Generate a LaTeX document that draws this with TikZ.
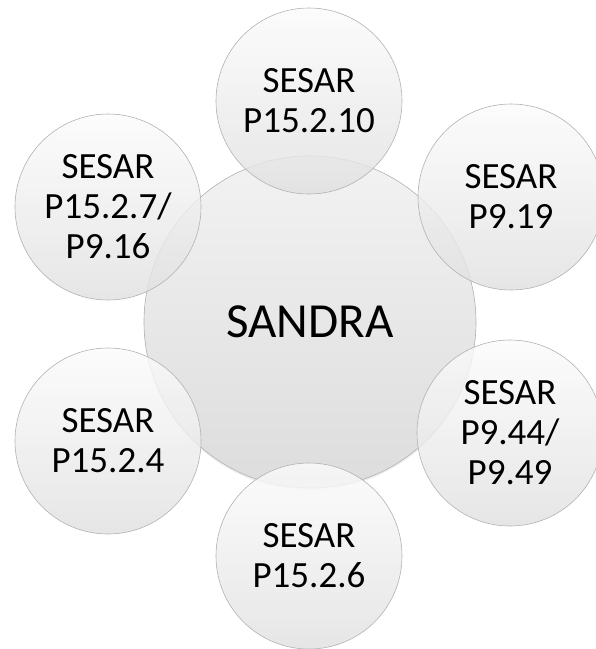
\documentclass[tikz,border=0pt]{standalone}
\usepackage{fontspec}
\setmainfont{Carlito}
\usetikzlibrary{shadows}
\begin{document}
\begin{tikzpicture}[x=1pt,y=-1pt,
  hub/.style={circle, minimum size=332pt, inner sep=0pt, draw=gray!60, line width=0.6pt,
    top color=gray!10, bottom color=gray!27,
    drop shadow={opacity=0.15, shadow xshift=0pt, shadow yshift=-2pt},
    font=\fontsize{49}{52}\selectfont},
  sat/.style={circle, minimum size=186pt, inner sep=0pt, draw=gray!60, line width=0.6pt,
    top color=gray!3, bottom color=gray!24, fill opacity=0.82, draw opacity=1, text opacity=1,
    align=center, font=\fontsize{37}{40}\selectfont}]
\useasboundingbox (0,0) rectangle (596,649);
\node[hub] (hub) at (310,322) {SANDRA};
\node[sat] (s1) at (309,101) {SESAR\\P15.2.10};
\node[sat] (s2) at (511,197) {SESAR\\P9.19};
\node[sat] (s3) at (510,433) {SESAR\\P9.44/\\P9.49};
\node[sat] (s4) at (309,556) {SESAR\\P15.2.6};
\node[sat] (s5) at (108,441) {SESAR\\P15.2.4};
\node[sat] (s6) at (108,207) {SESAR\\P15.2.7/\\P9.16};
\end{tikzpicture}
\end{document}
